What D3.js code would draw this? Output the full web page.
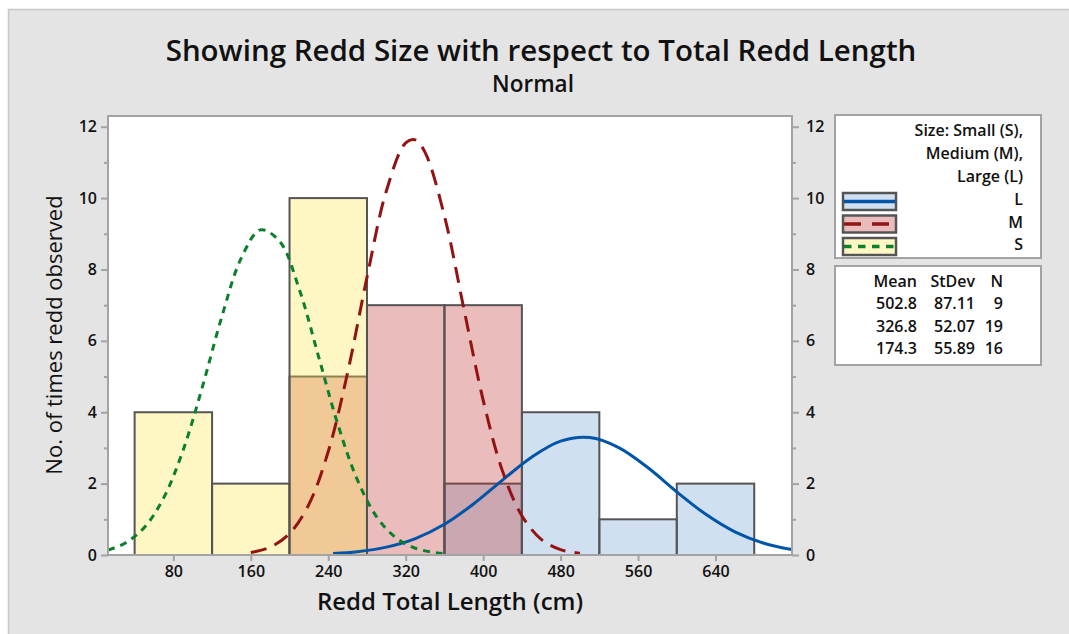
<!DOCTYPE html>
<html>
<head>
<meta charset="utf-8">
<script src="https://cdn.jsdelivr.net/npm/d3@7"></script>
<style>
body { margin: 0; background: #fff; }
text { font-family: "Open Sans", sans-serif; fill: #111; }
</style>
</head>
<body>
<svg id="chart" width="1069" height="634"></svg>
<script>
// ---------------- DATA

var binEdges = [40, 120, 200, 280, 360, 440, 520, 600, 680];
var largeCounts  = [0, 0, 0, 0, 2, 4, 1, 2];
var mediumCounts = [0, 0, 5, 7, 7, 0, 0, 0];
var smallCounts  = [4, 2, 10, 0, 0, 0, 0, 0];

// fitted curves
var smallCurveX  = [12.5, 30, 50, 70, 90, 110, 130, 150, 170, 190, 210, 230, 250, 270, 290, 310, 330, 350, 358];
var smallCurveY  = [0.14, 0.33, 0.77, 1.60, 2.93, 4.71, 6.67, 8.31, 9.11, 8.78, 7.45, 5.56, 3.65, 2.11, 1.07, 0.48, 0.19, 0.07, 0.04];
var mediumCurveX = [160, 180, 200, 220, 240, 260, 280, 300, 320, 330, 340, 360, 380, 400, 420, 440, 460, 480, 500];
var mediumCurveY = [0.07, 0.22, 0.60, 1.42, 2.90, 5.11, 7.78, 10.20, 11.55, 11.63, 11.28, 9.50, 6.91, 4.34, 2.35, 1.10, 0.44, 0.15, 0.05];
var largeCurveX  = [245, 270, 300, 330, 360, 390, 420, 450, 480, 510, 540, 570, 600, 630, 660, 690, 719];
var largeCurveY  = [0.04, 0.09, 0.22, 0.46, 0.86, 1.43, 2.10, 2.74, 3.19, 3.29, 3.01, 2.45, 1.77, 1.14, 0.65, 0.33, 0.15];

var sizeLabels = ["L", "M", "S"];
var statMeans  = ["502.8", "326.8", "174.3"];
var statStdevs = ["87.11", "52.07", "55.89"];
var statNs     = ["9", "19", "16"];

var xTicks = [80, 160, 240, 320, 400, 480, 560, 640];
var yTicks = [0, 2, 4, 6, 8, 10, 12];
var yMinorTicks = [1, 3, 5, 7, 9, 11];

// ---------------- STYLES

var styles = {
  L: { fill: "rgba(108,158,208,0.32)", swatch: "#d0e0f0", line: "#0055a8", dash: null },
  M: { fill: "rgba(192,46,46,0.32)",  swatch: "#ebbcbc", line: "#931212", dash: "16,9" },
  S: { fill: "rgba(252,230,71,0.32)", swatch: "#fef7c4", line: "#0a7f2c", dash: "7,6" }
};

var svg = d3.select("#chart");

// background panel
svg.append("rect")
  .attr("x", 8.5).attr("y", 9.5)
  .attr("width", 1070).attr("height", 640)
  .attr("fill", "#e4e4e4")
  .attr("stroke", "#c8c8c8")
  .attr("stroke-width", 1.5);

var plot = { left: 108, right: 792, top: 116, bottom: 555 };

var x = d3.scaleLinear().domain([12.5, 719]).range([plot.left, plot.right]);
var y = d3.scaleLinear().domain([0, 12.3]).range([plot.bottom, plot.top]);

// plot area
svg.append("rect")
  .attr("x", plot.left).attr("y", plot.top)
  .attr("width", plot.right - plot.left).attr("height", plot.bottom - plot.top)
  .attr("fill", "#fff");

svg.append("clipPath").attr("id", "clip")
  .append("rect")
  .attr("x", plot.left).attr("y", plot.top)
  .attr("width", plot.right - plot.left).attr("height", plot.bottom - plot.top);

// ---------------- BARS (L under M under S, translucent)

function drawBars(counts, key) {
  var bins = counts.map(function (c, i) {
    return { x0: binEdges[i], x1: binEdges[i + 1], n: c };
  }).filter(function (d) { return d.n > 0; });

  svg.append("g").selectAll("rect")
    .data(bins)
    .enter().append("rect")
    .attr("x", function (d) { return x(d.x0); })
    .attr("y", function (d) { return y(d.n); })
    .attr("width", function (d) { return x(d.x1) - x(d.x0); })
    .attr("height", function (d) { return y(0) - y(d.n); })
    .attr("fill", styles[key].fill)
    .attr("stroke", "#555")
    .attr("stroke-width", 2);
}
drawBars(largeCounts, "L");
drawBars(mediumCounts, "M");
drawBars(smallCounts, "S");

// ---------------- CURVES

var line = d3.line()
  .x(function (d) { return x(d[0]); })
  .y(function (d) { return y(d[1]); })
  .curve(d3.curveCatmullRom);

function drawCurve(xs, ys, key) {
  var pts = xs.map(function (v, i) { return [v, ys[i]]; });
  svg.append("path")
    .attr("clip-path", "url(#clip)")
    .attr("d", line(pts))
    .attr("fill", "none")
    .attr("stroke", styles[key].line)
    .attr("stroke-width", 3)
    .attr("stroke-dasharray", styles[key].dash);
}
drawCurve(largeCurveX, largeCurveY, "L");
drawCurve(mediumCurveX, mediumCurveY, "M");
drawCurve(smallCurveX, smallCurveY, "S");

// ---------------- FRAME & AXES

svg.append("rect")
  .attr("x", plot.left).attr("y", plot.top)
  .attr("width", plot.right - plot.left).attr("height", plot.bottom - plot.top)
  .attr("fill", "none")
  .attr("stroke", "#a3a3a3")
  .attr("stroke-width", 2);

function styleAxis(g) {
  g.select(".domain").remove();
  g.selectAll("line").attr("stroke", "#a3a3a3").attr("stroke-width", 2);
  g.selectAll("text").style("font-size", "16px").style("font-weight", 600).attr("fill", "#111");
}

svg.append("g")
  .attr("transform", "translate(0," + plot.bottom + ")")
  .call(d3.axisBottom(x).tickValues(xTicks).tickSize(6).tickPadding(5))
  .call(styleAxis);

svg.append("g")
  .attr("transform", "translate(" + plot.left + ",0)")
  .call(d3.axisLeft(y).tickValues(yTicks).tickSize(7).tickPadding(4))
  .call(styleAxis);
svg.append("g")
  .attr("transform", "translate(" + plot.left + ",0)")
  .call(d3.axisLeft(y).tickValues(yMinorTicks).tickSize(4).tickFormat(""))
  .call(styleAxis);

svg.append("g")
  .attr("transform", "translate(" + plot.right + ",0)")
  .call(d3.axisRight(y).tickValues(yTicks).tickSize(7).tickPadding(7))
  .call(styleAxis);
svg.append("g")
  .attr("transform", "translate(" + plot.right + ",0)")
  .call(d3.axisRight(y).tickValues(yMinorTicks).tickSize(4).tickFormat(""))
  .call(styleAxis);

// ---------------- TITLES

svg.append("text")
  .attr("x", 541).attr("y", 61)
  .attr("text-anchor", "middle")
  .style("font-size", "29.5px").style("font-weight", 600)
  .text("Showing Redd Size with respect to Total Redd Length");

svg.append("text")
  .attr("x", 533).attr("y", 92)
  .attr("text-anchor", "middle")
  .style("font-size", "22.5px").style("font-weight", 600)
  .text("Normal");

svg.append("text")
  .attr("x", 450).attr("y", 610)
  .attr("text-anchor", "middle")
  .style("font-size", "24px").style("font-weight", 600)
  .text("Redd Total Length (cm)");

svg.append("text")
  .attr("transform", "translate(62,335) rotate(-90)")
  .attr("text-anchor", "middle")
  .style("font-size", "22px")
  .text("No. of times redd observed");

// ---------------- LEGEND

var legend = svg.append("g");
legend.append("rect")
  .attr("x", 835).attr("y", 115).attr("width", 206).attr("height", 143)
  .attr("fill", "#fff").attr("stroke", "#a3a3a3").attr("stroke-width", 2);

["Size: Small (S),", "Medium (M),", "Large (L)"].forEach(function (t, i) {
  legend.append("text")
    .attr("x", 1023).attr("y", 136 + i * 23)
    .attr("text-anchor", "end")
    .style("font-size", "16px").style("font-weight", 600)
    .text(t);
});

sizeLabels.forEach(function (k, i) {
  var top = 193 + i * 22.5;
  legend.append("rect")
    .attr("x", 843).attr("y", top).attr("width", 53).attr("height", 17)
    .attr("fill", styles[k].swatch).attr("stroke", "#555").attr("stroke-width", 2.5);
  legend.append("line")
    .attr("x1", 844).attr("x2", 895)
    .attr("y1", top + 8.5).attr("y2", top + 8.5)
    .attr("stroke", styles[k].line).attr("stroke-width", 3.5)
    .attr("stroke-dasharray", k === "M" ? "17,11" : k === "S" ? "7.5,6.5" : null);
  legend.append("text")
    .attr("x", 1023).attr("y", top + 12)
    .attr("text-anchor", "end")
    .style("font-size", "16px").style("font-weight", 600)
    .text(k);
});

// stats table
var stats = svg.append("g");
stats.append("rect")
  .attr("x", 835).attr("y", 266).attr("width", 206).attr("height", 99)
  .attr("fill", "#fff").attr("stroke", "#a3a3a3").attr("stroke-width", 2);

var colRight = [917, 975, 1003];
["Mean", "StDev", "N"].forEach(function (h, j) {
  stats.append("text")
    .attr("x", colRight[j]).attr("y", 287)
    .attr("text-anchor", "end")
    .style("font-size", "16px").style("font-weight", 600)
    .text(h);
});
sizeLabels.forEach(function (k, i) {
  [statMeans[i], statStdevs[i], statNs[i]].forEach(function (v, j) {
    stats.append("text")
      .attr("x", colRight[j]).attr("y", 309 + i * 22.5)
      .attr("text-anchor", "end")
      .style("font-size", "16px").style("font-weight", 600)
      .text(v);
  });
});
</script>
</body>
</html>
